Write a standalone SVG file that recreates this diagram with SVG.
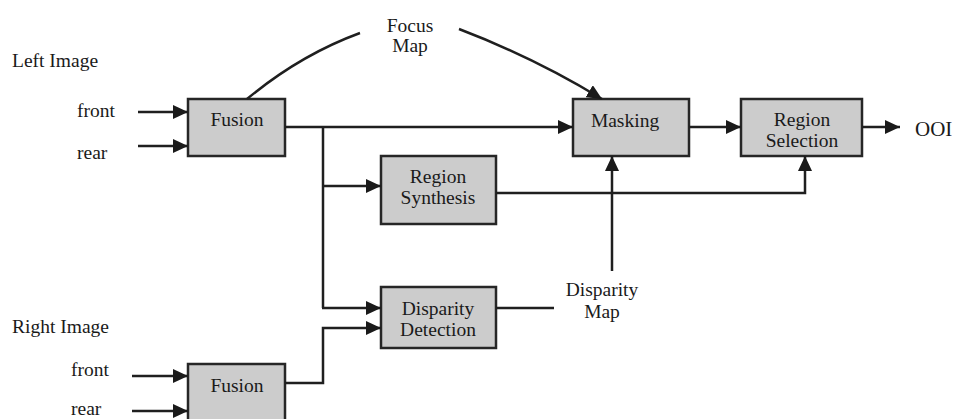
<svg xmlns="http://www.w3.org/2000/svg" width="956" height="419" viewBox="0 0 956 419">
<defs>
<marker id="ah" viewBox="0 0 15 14" refX="15" refY="7" markerWidth="15" markerHeight="14" markerUnits="userSpaceOnUse" orient="auto">
<path d="M0,0 L15,7 L0,14 Z" fill="#1a1a1a"/>
</marker>
<style>
.box{fill:#cccccc;stroke:#262626;stroke-width:2.5}
.t{font-family:"Liberation Serif","Times New Roman",serif;font-size:19.5px;fill:#1a1a1a}
.c{text-anchor:middle}
.ln{fill:none;stroke:#1f1f1f;stroke-width:2.5}
.ar{marker-end:url(#ah)}
</style>
</defs>
<rect width="956" height="419" fill="#ffffff"/>

<g id="labels">
<text class="t" x="12" y="67">Left Image</text>
<text class="t" x="77" y="117">front</text>
<text class="t" x="77" y="159">rear</text>
<text class="t" x="12" y="333">Right Image</text>
<text class="t" x="71" y="376">front</text>
<text class="t" x="71" y="415">rear</text>
<text class="t c" x="410" y="32">Focus</text>
<text class="t c" x="410" y="52">Map</text>
<text class="t c" x="602" y="296">Disparity</text>
<text class="t c" x="602" y="318">Map</text>
<text class="t" x="915" y="136" style="font-size:21px">OOI</text>
</g>

<g id="fusion-left">
<rect class="box" x="188" y="99" width="97" height="57"/>
<text class="t c" x="237" y="126">Fusion</text>
</g>
<g id="fusion-right">
<rect class="box" x="188" y="364" width="97" height="70"/>
<text class="t c" x="237" y="392">Fusion</text>
</g>
<g id="masking">
<rect class="box" x="573" y="99" width="116" height="57"/>
<text class="t c" x="625" y="127">Masking</text>
</g>
<g id="region-selection">
<rect class="box" x="741" y="99" width="121" height="57"/>
<text class="t c" x="802" y="126">Region</text>
<text class="t c" x="802" y="147">Selection</text>
</g>
<g id="region-synthesis">
<rect class="box" x="381" y="156" width="115" height="68"/>
<text class="t c" x="438" y="183">Region</text>
<text class="t c" x="438" y="204">Synthesis</text>
</g>
<g id="disparity-detection">
<rect class="box" x="381" y="287" width="115" height="61"/>
<text class="t c" x="438" y="315">Disparity</text>
<text class="t c" x="438" y="336">Detection</text>
</g>

<g id="connectors">
<line class="ln ar" x1="138" y1="112" x2="188" y2="112"/>
<line class="ln ar" x1="138" y1="146" x2="188" y2="146"/>
<line class="ln ar" x1="132" y1="376" x2="188" y2="376"/>
<line class="ln ar" x1="132" y1="411" x2="188" y2="411"/>
<path class="ln" d="M247,99 Q300,55 360,33"/>
<path class="ln ar" d="M459,29 Q535,58 602,99"/>
<line class="ln ar" x1="285" y1="127" x2="573" y2="127"/>
<line class="ln ar" x1="689" y1="127" x2="741" y2="127"/>
<line class="ln ar" x1="862" y1="127" x2="900" y2="127"/>
<path class="ln" d="M323,127 V308"/>
<line class="ln ar" x1="323" y1="186" x2="381" y2="186"/>
<line class="ln ar" x1="322" y1="308" x2="381" y2="308"/>
<path class="ln ar" d="M285,383 H323 V328 H381"/>
<path class="ln ar" d="M496,193 H805 V156"/>
<line class="ln ar" x1="612" y1="271" x2="612" y2="156"/>
<line class="ln" x1="496" y1="308" x2="554" y2="308"/>
</g>
</svg>
